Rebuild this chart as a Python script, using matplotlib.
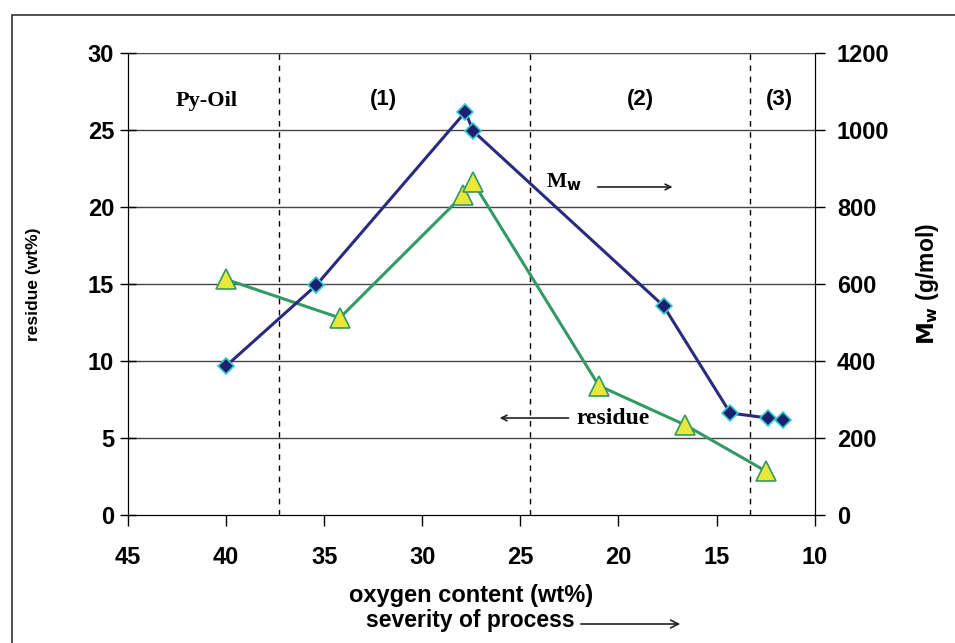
import matplotlib
matplotlib.use("Agg")
import matplotlib.pyplot as plt
from matplotlib.patches import Rectangle, FancyArrowPatch

# Data
oxygen_mw = [40.0, 35.4, 27.8, 27.4, 17.7, 14.3, 12.4, 11.6]
mw_values = [387, 597, 1047, 997, 543, 265, 252, 247]

oxygen_res = [40.0, 34.2, 27.9, 27.4, 21.0, 16.6, 12.5]
residue_values = [15.3, 12.8, 20.8, 21.6, 8.4, 5.85, 2.86]

region_bounds = [37.3, 24.5, 13.3]
region_labels = ["Py-Oil", "(1)", "(2)", "(3)"]
region_label_x = [41.0, 32.0, 18.9, 11.8]

x_ticks = [45, 40, 35, 30, 25, 20, 15, 10]
left_ticks = [0, 5, 10, 15, 20, 25, 30]
right_ticks = [0, 200, 400, 600, 800, 1000, 1200]

plt.rcParams['font.family'] = ['Liberation Sans', 'DejaVu Sans']
SERIF = ['Liberation Serif', 'DejaVu Serif']

fig = plt.figure(figsize=(9.55, 6.43), dpi=100)
ax = fig.add_axes([0.134, 0.199, 0.719, 0.7186])
ax2 = ax.twinx()

# outer frame of the figure
fig.patches.append(Rectangle((12 / 955, -0.1), 1.2, 1 - 15 / 643 + 0.1,
                             transform=fig.transFigure, fill=False,
                             edgecolor="#333333", lw=1.2))

# grid lines and region dividers
for y in left_ticks[1:]:
    ax.axhline(y, color="#444444", lw=1.0, zorder=1)
for xb in region_bounds:
    ax.plot([xb, xb], [0, 30], color="black", lw=1.0, ls=(0, (4, 4)), zorder=1)

# residue series
ax.plot(oxygen_res, residue_values, color="#339966", lw=2.2, marker="^",
        markersize=15, markerfacecolor="#E8E83A", markeredgecolor="#339966",
        markeredgewidth=1.2, zorder=3)

# Mw series
ax2.plot(oxygen_mw, mw_values, color="#2B2A7E", lw=2.2, marker="D",
         markersize=8, markerfacecolor="#1F1F70", markeredgecolor="#33CCCC",
         markeredgewidth=1.2, zorder=4)

ax.set_xlim(45, 10)
ax.set_ylim(0, 30)
ax2.set_ylim(0, 1200)
ax.set_xticks(x_ticks)
ax.set_yticks(left_ticks)
ax2.set_yticks(right_ticks)

for a in (ax, ax2):
    a.spines["top"].set_visible(False)
    a.tick_params(labelsize=17, width=1.0, length=8, direction="out")
    for lab in a.get_yticklabels() + a.get_xticklabels():
        lab.set_fontweight("bold")
ax.tick_params(axis="x", pad=14)
ax.tick_params(axis="y", direction="inout", length=12, pad=4)
ax2.tick_params(axis="y", length=7, pad=9)

ax.set_ylabel("residue (wt%)", fontsize=12.5, fontweight="bold", va="center")
ax.yaxis.set_label_coords(-0.138, 0.5)
ax2.set_ylabel(r"$\mathbf{M_w}$ (g/mol)", fontsize=16.5, fontweight="bold",
               va="center")
ax2.yaxis.set_label_coords(1.164, 0.5)
ax.set_xlabel("oxygen content (wt%)", fontsize=17, fontweight="bold", va="center")
ax.xaxis.set_label_coords(0.5, (515 - 595) / 462)

# region labels
for lx, lt in zip(region_label_x, region_labels):
    if lt == "Py-Oil":
        ax.text(lx, 26.9, lt, ha="center", va="center", fontsize=16,
                fontweight="bold", family=SERIF)
    else:
        ax.text(lx, 27.0, lt, ha="center", va="center", fontsize=16,
                fontweight="bold")

# series annotations
ax.text(22.8, 21.6, r"M$_\mathbf{w}$", ha="center", va="center", fontsize=15.5,
        fontweight="bold", family=SERIF)
ax.annotate("", xy=(17.1, 21.3), xytext=(21.2, 21.3),
            arrowprops=dict(arrowstyle="->", lw=1.2, color="#222222"))
ax.text(20.3, 6.3, "residue", ha="center", va="center", fontsize=17,
        fontweight="bold", family=SERIF)
ax.annotate("", xy=(26.2, 6.3), xytext=(22.4, 6.3),
            arrowprops=dict(arrowstyle="->", lw=1.2, color="#222222"))

# severity caption under the x label
fig.text(470 / 955, 1 - 620 / 643, "severity of process", ha="center",
         va="center", fontsize=16.5, fontweight="bold")
fig.patches.append(FancyArrowPatch(
    (578 / 955, 1 - 624 / 643), (683 / 955, 1 - 624 / 643),
    transform=fig.transFigure, arrowstyle="->", mutation_scale=14,
    lw=1.2, color="#222222"))

fig.savefig("out.png", dpi=100)
